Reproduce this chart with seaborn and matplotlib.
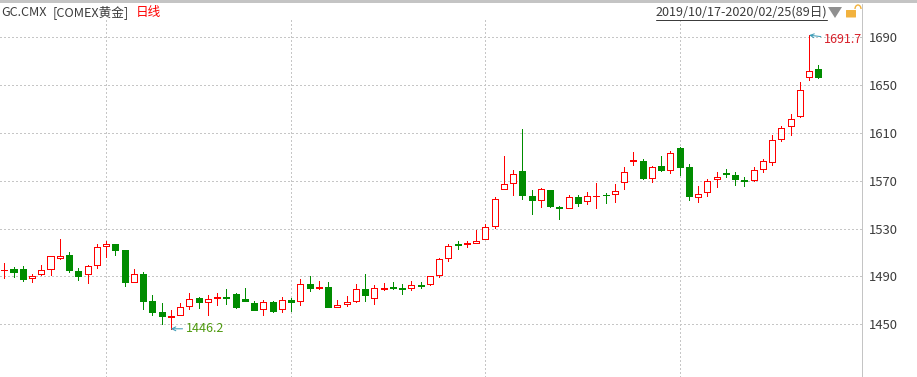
"""Daily candlestick chart of COMEX gold, 2019/10/17 - 2020/02/25."""
import matplotlib
matplotlib.use("Agg")
import matplotlib.pyplot as plt
from matplotlib.patches import Arc, FancyBboxPatch, Polygon, Rectangle
import numpy as np
import pandas as pd
import seaborn as sns

opens = [
    1495.0, 1496.1, 1496.1, 1488.3, 1491.7, 1495.8, 1505.8, 1507.5, 1494.4, 1491.7,
    1499.2, 1515.6, 1516.7, 1511.9, 1485.0, 1491.7, 1469.4, 1460.0, 1456.4, 1457.5,
    1465.0, 1471.7, 1468.3, 1472.2, 1472.5, 1475.0, 1470.8, 1467.5, 1462.5, 1468.3,
    1462.5, 1470.0, 1469.2, 1483.3, 1480.6, 1480.8, 1464.7, 1467.2, 1469.2, 1479.2,
    1471.7, 1479.7, 1480.8, 1480.0, 1480.0, 1482.5, 1483.3, 1490.8, 1505.0, 1516.7,
    1516.7, 1518.3, 1521.7, 1532.5, 1563.3, 1568.3, 1578.3, 1557.5, 1554.2, 1562.5,
    1548.3, 1547.5, 1556.7, 1553.3, 1557.2, 1558.3, 1559.2, 1569.2, 1586.7, 1586.7,
    1572.5, 1582.5, 1579.2, 1597.5, 1581.7, 1556.7, 1560.8, 1571.7, 1576.1, 1575.0,
    1570.8, 1570.8, 1580.0, 1585.8, 1605.0, 1615.8, 1623.8, 1656.4, 1663.1,
]
closes = [
    1495.6, 1493.9, 1488.1, 1490.6, 1495.0, 1506.7, 1506.7, 1495.6, 1490.6, 1498.3,
    1515.0, 1516.7, 1512.2, 1485.6, 1491.7, 1469.7, 1460.6, 1457.2, 1456.9, 1464.2,
    1471.4, 1468.9, 1471.4, 1472.5, 1472.2, 1464.7, 1469.7, 1462.2, 1468.3, 1461.4,
    1470.0, 1468.9, 1483.3, 1480.6, 1480.8, 1464.7, 1465.8, 1468.3, 1479.2, 1474.7,
    1480.0, 1480.0, 1480.6, 1479.7, 1482.5, 1482.2, 1490.0, 1504.2, 1515.8, 1516.4,
    1518.3, 1520.0, 1531.7, 1555.0, 1567.5, 1575.8, 1558.3, 1553.9, 1563.3, 1548.9,
    1547.5, 1556.7, 1551.4, 1557.5, 1557.5, 1558.1, 1561.7, 1577.5, 1587.5, 1571.9,
    1581.7, 1578.9, 1593.3, 1581.4, 1557.2, 1559.2, 1570.0, 1573.3, 1575.8, 1571.4,
    1569.7, 1579.2, 1586.7, 1604.2, 1614.2, 1621.7, 1645.8, 1661.7, 1657.0,
]
highs = [
    1501.1, 1497.8, 1498.3, 1491.7, 1499.2, 1506.7, 1521.1, 1510.8, 1496.7, 1499.2,
    1516.7, 1519.4, 1516.7, 1511.9, 1495.8, 1493.3, 1474.4, 1467.5, 1461.9, 1467.5,
    1475.8, 1472.5, 1474.2, 1475.8, 1479.2, 1475.8, 1480.0, 1469.2, 1470.0, 1469.2,
    1472.5, 1471.7, 1487.5, 1490.0, 1485.8, 1485.0, 1470.0, 1473.3, 1483.3, 1491.7,
    1482.5, 1484.2, 1485.0, 1483.3, 1485.8, 1485.0, 1490.0, 1505.0, 1517.5, 1520.0,
    1519.4, 1529.2, 1534.2, 1556.7, 1590.8, 1579.2, 1613.3, 1562.5, 1564.2, 1562.5,
    1549.2, 1558.3, 1558.3, 1560.8, 1568.3, 1560.0, 1567.5, 1581.7, 1594.2, 1588.3,
    1582.5, 1590.8, 1595.0, 1598.3, 1584.2, 1565.8, 1571.7, 1577.5, 1580.0, 1577.5,
    1573.3, 1581.7, 1588.3, 1608.3, 1615.8, 1625.8, 1652.2, 1691.7, 1667.0,
]
lows = [
    1488.3, 1489.7, 1486.4, 1485.6, 1491.4, 1491.4, 1504.7, 1493.9, 1487.2, 1484.7,
    1497.2, 1506.4, 1508.1, 1482.2, 1485.0, 1463.1, 1458.1, 1450.6, 1446.2, 1457.5,
    1463.1, 1463.9, 1458.1, 1466.4, 1467.2, 1463.9, 1469.7, 1462.2, 1458.1, 1460.6,
    1460.6, 1461.4, 1466.4, 1478.1, 1479.7, 1464.7, 1464.7, 1465.6, 1468.3, 1469.7,
    1467.2, 1478.9, 1479.7, 1475.6, 1478.9, 1480.6, 1482.5, 1489.7, 1503.1, 1513.3,
    1514.7, 1518.3, 1521.7, 1530.8, 1563.3, 1558.3, 1554.7, 1542.2, 1548.1, 1548.1,
    1538.1, 1547.5, 1548.9, 1550.8, 1547.2, 1551.4, 1552.2, 1563.1, 1583.1, 1571.1,
    1568.6, 1578.1, 1576.4, 1574.7, 1553.9, 1552.2, 1557.2, 1564.7, 1573.1, 1566.4,
    1565.6, 1569.7, 1577.2, 1583.1, 1603.6, 1608.1, 1623.0, 1653.9, 1655.6,
]
price_ticks = [1450, 1490, 1530, 1570, 1610, 1650, 1690]
grid_candles = [11, 31, 52, 73]
max_candle, max_label = 87, "1691.7"
min_candle, min_label = 18, "1446.2"

RED = "#ff0000"
GREEN = "#008c00"
GRID = "#c6c6c6"
CHROME = "#c4c4c4"
TEXT = "#3c3c3c"
TEAL = "#3a9ab5"
PX = 0.72  # one pixel at dpi 100, in points

sns.set_style("white")
plt.rcParams["font.family"] = ["Noto Sans CJK SC", "DejaVu Sans"]

W, H = 917, 377
fig = plt.figure(figsize=(W / 100, H / 100), dpi=100)
# axes box in pixels: x 0..862, y 20..377
ax = fig.add_axes([0, 0, 861.7 / W, (H - 20) / H])

idx = np.arange(len(opens))
df = pd.DataFrame({"idx": idx, "open": opens, "close": closes, "high": highs, "low": lows})
df["up"] = df["close"] >= df["open"]

wicks = df.melt(id_vars=["idx", "up"], value_vars=["high", "low"], value_name="price")
sns.lineplot(data=wicks, x="idx", y="price", hue="up", units="idx", estimator=None,
             palette={True: RED, False: GREEN}, legend=False, lw=PX,
             antialiased=False, ax=ax, zorder=2)

up = df[df["up"]]
down = df[~df["up"]]
ax.bar(up["idx"], up["close"] - up["open"], bottom=up["open"], width=0.66,
       facecolor="white", edgecolor=RED, linewidth=PX, antialiased=False, zorder=3)
ax.bar(down["idx"], down["open"] - down["close"], bottom=down["close"], width=0.66,
       facecolor=GREEN, edgecolor=GREEN, linewidth=PX, antialiased=False, zorder=3)

ax.set_xlim(-0.465, 92.69)
ax.set_ylim(1405.9, 1704.4)
ax.set_xlabel("")
ax.set_ylabel("")
ax.set_xticks(grid_candles)
ax.set_xticklabels([])
ax.set_yticks(price_ticks)
ax.yaxis.tick_right()
ax.tick_params(axis="x", length=0)
ax.tick_params(axis="y", length=4, width=PX, color="#8a8a8a", pad=1,
               labelsize=9.4, labelcolor=TEXT, right=True, left=False)
ax.grid(True, color=GRID, lw=PX, linestyle=(0, (1.4, 2.8)), antialiased=False, zorder=0)
ax.set_axisbelow(True)
sns.despine(ax=ax, left=True, bottom=True, top=True, right=False)
ax.spines["right"].set_color(CHROME)
ax.spines["right"].set_linewidth(PX)

# max / min callouts
ax.annotate(max_label, xy=(max_candle, highs[max_candle]), xytext=(15, -4),
            textcoords="offset pixels", color="#d8202a", fontsize=9, va="center",
            arrowprops=dict(arrowstyle="->", color=TEAL, lw=PX, shrinkA=0, shrinkB=0,
                            mutation_scale=7), zorder=5)
ax.annotate(min_label, xy=(min_candle, lows[min_candle]), xytext=(15, 0),
            textcoords="offset pixels", color="#4f9a10", fontsize=9, va="center",
            arrowprops=dict(arrowstyle="->", color=TEAL, lw=PX, shrinkA=0, shrinkB=0,
                            mutation_scale=7), zorder=5)

# header strip in pixel coordinates
hdr = fig.add_axes([0, 0, 1, 1], facecolor="none")
hdr.set_xlim(0, W)
hdr.set_ylim(H, 0)
hdr.axis("off")
hdr.add_patch(Rectangle((0, 0), W, 3, color=CHROME, lw=0))
hdr.plot([861.7, 861.7], [4, 20], color=CHROME, lw=PX)
hdr.text(1, 16, "GC.CMX", fontsize=9.1, color=TEXT, va="baseline")
hdr.text(53, 16, "[COMEX黄金]", fontsize=9.1, color=TEXT, va="baseline")
hdr.text(136, 16, "日线", fontsize=9.1, color=RED, va="baseline")
hdr.text(656, 16, "2019/10/17-2020/02/25(89日)", fontsize=9.1, color=TEXT, va="baseline")
hdr.plot([656, 827], [19.5, 19.5], color=TEXT, lw=PX)
hdr.add_patch(Polygon([(828, 7), (842, 7), (835, 18)], color="#8f8f8f", lw=0))
hdr.add_patch(FancyBboxPatch((846.5, 10.5), 9, 6.5, boxstyle="round,pad=0.5",
                             color="#f2b23e", lw=0))
hdr.add_patch(Arc((858, 9), 6, 8, theta1=180, theta2=360, color="#f2b23e", lw=1))

fig.savefig("out.png", dpi=100)
plt.close(fig)
